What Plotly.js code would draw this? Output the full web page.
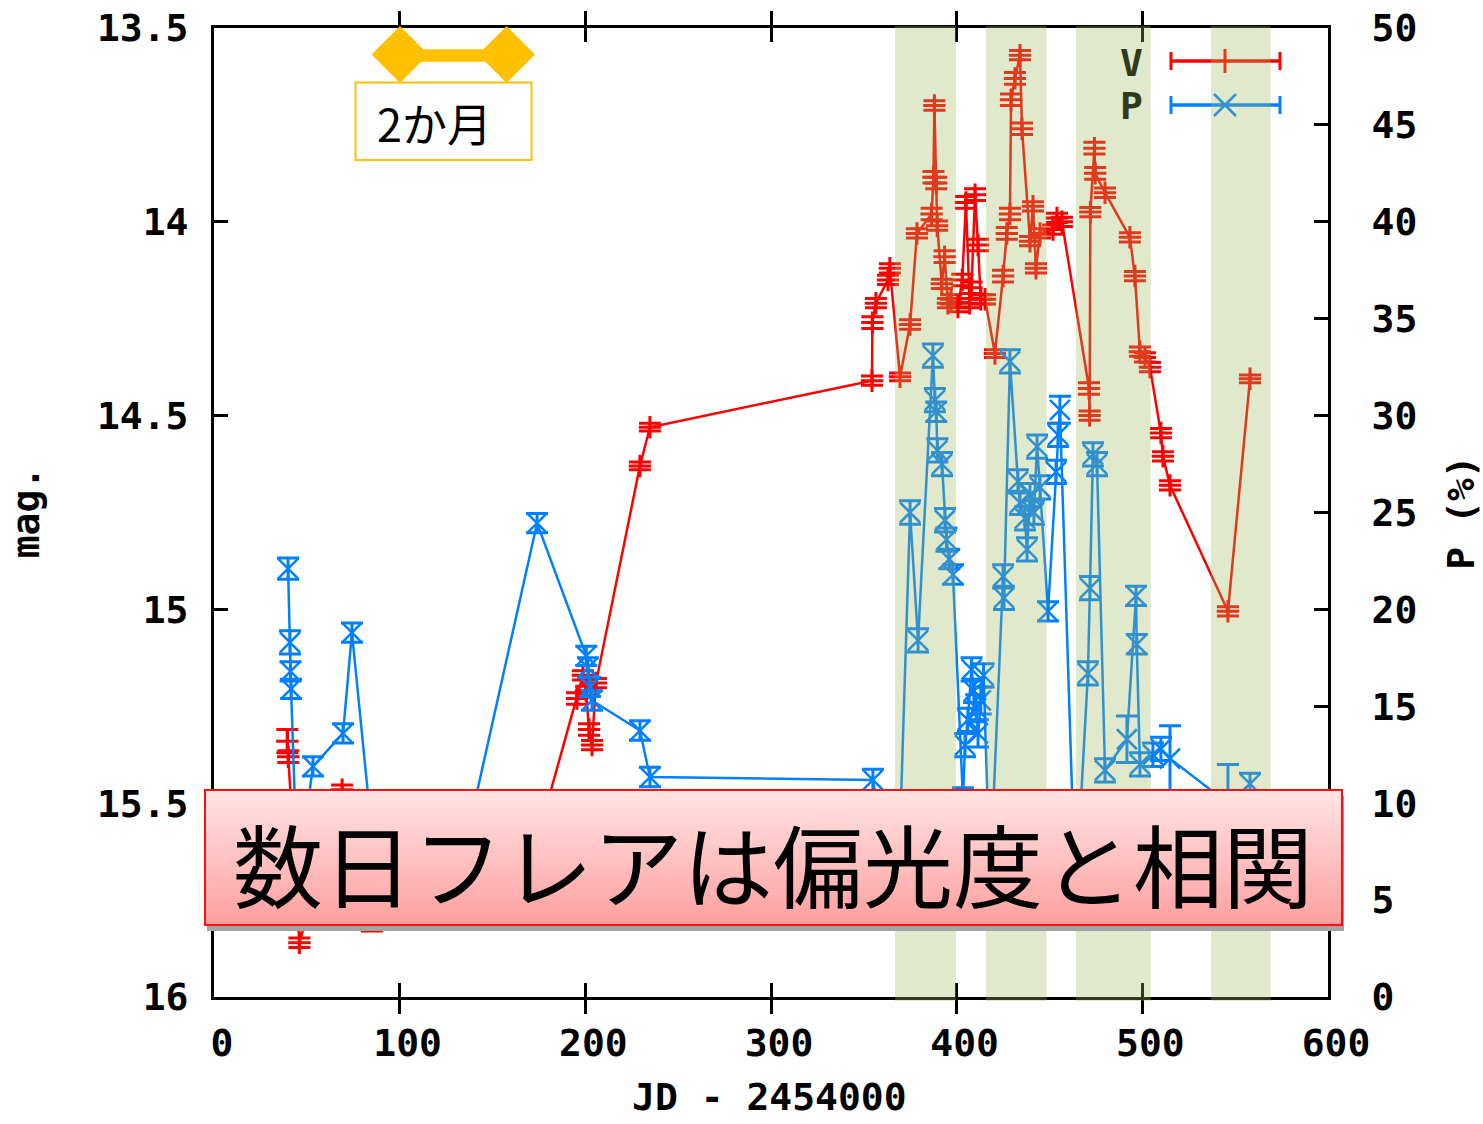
<!DOCTYPE html>
<html>
<head>
<meta charset="utf-8">
<script src="https://cdn.plot.ly/plotly-3.0.1.min.js"></script>
<style>html,body{margin:0;padding:0;background:#fff;}#chart{width:1483px;height:1124px;}</style>
</head>
<body>
<div id="chart"></div>
<script>
// ---- V magnitude series ----
const vJD  = [39.5,40,46,69,85,165,195.5,198.7,200.4,202,203.6,205.7,229.4,234.8,
  354.4,354.6,356.5,363,364,369.5,374.9,378.6,386.5,387.5,388,389,389.5,392,393.5,395.3,397,
  400.7,403,405,407,408,409.9,411.5,413,415.3,
  420.6,425,427,428.7,429.3,431.4,434.1,435.2,439.5,441.1,442.7,444.9,
  451.9,454,456.7,471.3,471.6,472,474.2,474.6,479.9,
  493.3,496,498.7,501.4,504.1,510,511.1,514.9,546.1,558];
const vMag = [15.34,15.38,15.86,15.465,15.80,15.75,15.23,15.17,15.21,15.31,15.35,15.19,14.63,14.53,
  14.41,14.26,14.21,14.15,14.12,14.40,14.265,14.03,13.98,13.885,13.70,13.90,14.01,14.16,14.09,14.21,14.20,
  14.22,14.15,13.95,14.21,14.17,13.93,14.06,14.20,14.20,
  14.34,14.14,14.03,13.98,13.685,13.63,13.57,13.76,14.05,13.96,14.12,14.03,
  14.02,13.99,14.00,14.43,14.50,13.975,13.81,13.875,13.925,
  14.04,14.14,14.335,14.35,14.375,14.545,14.605,14.68,15.005,14.405];
const vErr = [0.03,0.015,0.012,0.012,0.03,0.02,0.015,0.012,0.012,0.015,0.012,0.012,0.01,0.01,
  0.012,0.015,0.012,0.012,0.012,0.01,0.012,0.012,0.015,0.015,0.012,0.015,0.012,0.012,0.015,0.012,0.012,
  0.012,0.015,0.015,0.012,0.015,0.015,0.015,0.012,0.012,
  0.01,0.015,0.015,0.015,0.015,0.015,0.012,0.015,0.012,0.012,0.012,0.012,
  0.012,0.012,0.012,0.015,0.012,0.012,0.015,0.015,0.012,
  0.012,0.012,0.012,0.012,0.012,0.012,0.012,0.012,0.012,0.01];

// ---- P polarization series ----
const pJD  = [39.9,40.9,41.2,41.5,45,53.3,69.5,74.3,86,131,174,
  200.5,201.4,202.5,203.6,229.4,234.8,354.9,368,
  374.9,379.2,387.2,388.3,389,389.6,392.1,393.7,394.5,396,398,403.4,
  404.5,406,408,409.3,410.5,411.5,413,414.5,418,
  425,425.5,428.7,433,434.1,436.8,437.9,439.5,441.6,443.3,444.9,449.2,453.5,454.6,455.6,
  464,470.7,471.8,473.4,475.6,479.9,491.7,496.6,497,498.7,505.7,510,514.9,546.1,558];
const pPol = [22.1,18.3,16.8,15.9,6.0,11.9,13.6,18.8,7.5,6.0,24.45,
  17.6,17.0,16.0,15.3,13.75,11.35,11.2,4.0,
  25.0,18.4,33.1,30.8,30.2,28.2,27.5,24.6,23.6,22.6,21.8,10.2,
  13.0,14.3,16.9,15.8,14.9,13.6,15.3,16.6,6.0,
  21.7,20.6,32.8,26.6,25.5,24.7,23.1,25.9,25.0,28.4,26.3,19.9,27.1,29.0,30.3,
  5.0,16.7,21.1,28.0,27.5,11.7,13.3,20.7,18.2,12.0,12.5,12.8,12.3,10.0,11.0];
const pErr = [0.55,0.6,0.5,0.5,0.5,0.5,0.5,0.5,0.5,0.5,0.5,
  0.5,0.5,0.5,0.5,0.5,0.5,0.55,0.5,
  0.6,0.6,0.6,0.6,0.5,0.6,0.6,0.6,0.6,0.5,0.5,0.6,
  0.6,0.6,0.6,0.6,0.7,0.7,0.7,0.6,0.5,
  0.6,0.6,0.6,0.6,0.6,0.6,0.6,0.6,0.6,0.6,0.6,0.5,0.6,0.6,0.7,
  0.5,0.6,0.6,0.6,0.6,0.6,1.2,0.5,0.5,0.6,0.6,0.6,1.7,2.0,0.55];

// ---- axes / labels ----
const magTicks = [13.5,14,14.5,15,15.5,16];
const magTickText = ['13.5','14','14.5','15','15.5','16'];
const shadeRanges = [[366.8,399.6],[415.8,448.4],[464.3,504.5],[537.0,569.1]];
const seriesNames = ['V','P'];
const xTitle = 'JD - 2454000';
const bannerText = '数日フレアは偏光度と相関';
const spanText = '2か月';

const RED = '#ff0000', BLUE = '#0080ff';
const L = 214, R = 1328, T = 28, B = 997;
const px = p => (p - L) / (R - L);
const py = p => (B - p) / (B - T);
const MONO = {family: 'DejaVu Sans Mono', size: 38, color: '#000', weight: 'bold'};

const traces = [
  {x: vJD, y: vMag, yaxis: 'y', name: 'V', type: 'scatter', mode: 'lines+markers',
   line: {color: RED, width: 2.5},
   marker: {symbol: 'cross-thin', size: 16, color: RED, line: {color: RED, width: 3}},
   error_y: {type: 'data', array: vErr, visible: true, color: RED, thickness: 3, width: 11}},
  {x: pJD, y: pPol, yaxis: 'y2', name: 'P', type: 'scatter', mode: 'lines+markers',
   line: {color: BLUE, width: 2.5},
   marker: {symbol: 'x-thin', size: 20, color: BLUE, line: {color: BLUE, width: 2.5}},
   error_y: {type: 'data', array: pErr, visible: true, color: BLUE, thickness: 3, width: 11}}
];

const shapes = [];
function pline(x0, y0, x1, y1, color, w) {
  shapes.push({type: 'line', xref: 'paper', yref: 'paper', x0: px(x0), y0: py(y0), x1: px(x1), y1: py(y1),
    line: {color: color, width: w}, layer: 'above'});
}
// legend samples
pline(1170, 61, 1280, 61, RED, 3.5);
pline(1171, 52, 1171, 70, RED, 3);
pline(1280, 52, 1280, 70, RED, 3);
pline(1225, 49, 1225, 73, RED, 3);
pline(1170, 105, 1280, 105, BLUE, 3.5);
pline(1171, 96, 1171, 114, BLUE, 3);
pline(1280, 96, 1280, 114, BLUE, 3);
pline(1214, 94, 1236, 116, BLUE, 2.5);
pline(1214, 116, 1236, 94, BLUE, 2.5);

// shaded flare windows (semi-transparent, above data)
shadeRanges.forEach(r => shapes.push({type: 'rect', xref: 'x', yref: 'paper', x0: r[0], x1: r[1],
  y0: -0.004, y1: 1.002, fillcolor: 'rgba(155,184,90,0.31)', line: {width: 0}, layer: 'above'}));

// banner: shadow, gradient, border
const bx0 = 205, bx1 = 1342, by0 = 790, by1 = 925;
shapes.push({type: 'rect', xref: 'paper', yref: 'paper', x0: px(bx0 + 2), x1: px(bx1 + 2), y0: py(by1 + 6), y1: py(by0 + 6),
  fillcolor: '#a4a4a4', line: {width: 0}, layer: 'above'});
const N = 40;
for (let i = 0; i < N; i++) {
  const t = i / (N - 1);
  const g = Math.round(228 - (228 - 160) * t);
  const ya = by0 + (by1 - by0) * i / N, yb = by0 + (by1 - by0) * (i + 1) / N + 0.8;
  shapes.push({type: 'rect', xref: 'paper', yref: 'paper', x0: px(bx0), x1: px(bx1), y0: py(Math.min(yb, by1)), y1: py(ya),
    fillcolor: `rgb(255,${g},${g})`, line: {width: 0}, layer: 'above'});
}
shapes.push({type: 'rect', xref: 'paper', yref: 'paper', x0: px(bx0), x1: px(bx1), y0: py(by1), y1: py(by0),
  fillcolor: 'rgba(0,0,0,0)', line: {color: '#ff1010', width: 2}, layer: 'above'});

// 2-month span marker
const ORG = '#ffc000';
function diamond(cx, cy, r) {
  return `M${px(cx - r)},${py(cy)} L${px(cx)},${py(cy - r)} L${px(cx + r)},${py(cy)} L${px(cx)},${py(cy + r)} Z`;
}
shapes.push({type: 'rect', xref: 'paper', yref: 'paper', x0: px(400), x1: px(506.5), y0: py(61.7), y1: py(49.3),
  fillcolor: ORG, line: {width: 0}, layer: 'above'});
shapes.push({type: 'path', xref: 'paper', yref: 'paper', path: diamond(400, 54.5, 28.4), fillcolor: ORG, line: {width: 0}, layer: 'above'});
shapes.push({type: 'path', xref: 'paper', yref: 'paper', path: diamond(506.6, 54.5, 28.4), fillcolor: ORG, line: {width: 0}, layer: 'above'});
shapes.push({type: 'rect', xref: 'paper', yref: 'paper', x0: px(355.5), x1: px(531.5), y0: py(160), y1: py(82.5),
  fillcolor: '#ffffff', line: {color: ORG, width: 2}, layer: 'above'});

const annotations = [
  {xref: 'paper', yref: 'paper', x: px(1131), y: py(63), text: seriesNames[0], showarrow: false,
   font: Object.assign({}, MONO, {color: '#30391c'}), xanchor: 'center', yanchor: 'middle'},
  {xref: 'paper', yref: 'paper', x: px(1131), y: py(106), text: seriesNames[1], showarrow: false,
   font: Object.assign({}, MONO, {color: '#30391c'}), xanchor: 'center', yanchor: 'middle'},
  {xref: 'paper', yref: 'paper', x: px(769), y: py(1097), text: xTitle, showarrow: false,
   font: MONO, xanchor: 'center', yanchor: 'middle'},
  {xref: 'paper', yref: 'paper', x: px(773), y: py(862), text: bannerText, showarrow: false,
   font: {family: 'Noto Sans CJK JP', size: 90, color: '#000'}, xanchor: 'center', yanchor: 'middle'},
  {xref: 'paper', yref: 'paper', x: px(434), y: py(122), text: spanText, showarrow: false,
   font: {family: 'Noto Sans CJK JP', size: 45, color: '#000'}, xanchor: 'center', yanchor: 'middle'}
];

const axCommon = {showgrid: false, zeroline: false, showline: true, linecolor: '#000', linewidth: 3,
  ticks: 'inside', ticklen: 14, tickwidth: 3, tickcolor: '#000', tickfont: MONO};

const layout = {
  width: 1483, height: 1124,
  margin: {l: L, r: 1483 - R, t: T, b: 1124 - B, pad: 0},
  paper_bgcolor: '#fff', plot_bgcolor: '#fff', showlegend: false,
  xaxis: Object.assign({}, axCommon, {range: [0, 600], dtick: 100, tick0: 0, mirror: 'allticks',
    ticklabelstandoff: 10, ticklabelshift: 8}),
  yaxis: Object.assign({}, axCommon, {range: [16, 13.5], tickvals: magTicks, ticktext: magTickText, mirror: true,
    ticklabelstandoff: 15,
    title: {text: 'mag.', font: MONO, standoff: 46}}),
  yaxis2: Object.assign({}, axCommon, {range: [0, 50], dtick: 5, tick0: 0, overlaying: 'y', side: 'right',
    ticklabelstandoff: 33,
    title: {text: 'P (%)', font: MONO, standoff: 36}}),
  shapes: shapes, annotations: annotations
};

Plotly.newPlot('chart', traces, layout, {staticPlot: true, displayModeBar: false});
</script>
</body>
</html>
